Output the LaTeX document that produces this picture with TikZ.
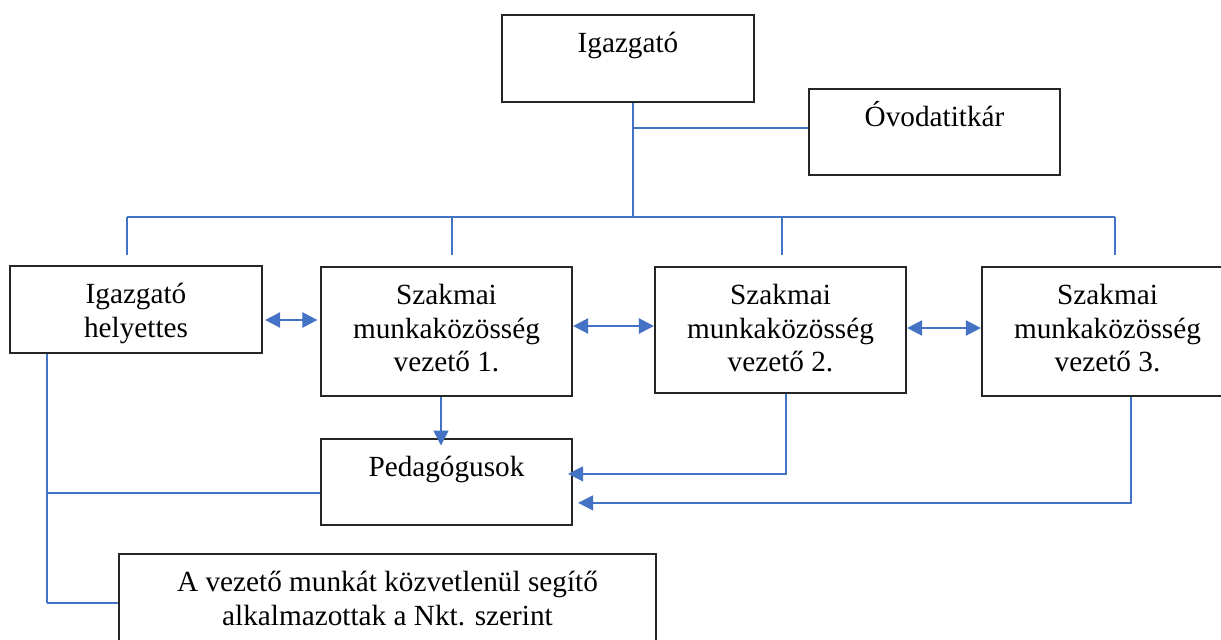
\documentclass[tikz,border=0pt]{standalone}
\usepackage{fontspec}
\setmainfont{Liberation Serif}
\usetikzlibrary{arrows.meta,positioning,calc}
\definecolor{linkblue}{HTML}{4472C4}

\begin{document}
\begin{tikzpicture}
[x=0.4pt, y=-0.4pt,
box/.style={draw=black!85, line width=0.7pt, anchor=north, align=center,
  minimum width=100.6pt, inner ysep=0pt, font=\fontsize{11.7pt}{13.4pt}\selectfont},
link/.style={draw=linkblue, line width=0.6pt},
onearrow/.style={-{Triangle[length=6pt,width=6pt]}},
twoarrow/.style={{Triangle[length=6pt,width=6pt]}-{Triangle[length=6pt,width=6pt]}, line width=1pt}]
\clip (0,0) rectangle (1221,640);
\node[box, text height=15.2pt, text depth=19.6pt] (dir) at (628,14) {Igazgató};
\node[box, text height=15.2pt, text depth=19.2pt] (titk) at (934.5,88) {Óvodatitkár};
\node[box, text height=28.6pt, text depth=6.2pt] (hely) at (136,265) {Igazgató\\helyettes};
\node[box, text height=42pt, text depth=9.6pt] (szm1) at (446.5,266) {Szakmai\\munkaközösség\\vezető 1.};
\node[box, text height=42pt, text depth=8.4pt] (szm2) at (780.5,266) {Szakmai\\munkaközösség\\vezető 2.};
\node[box, text height=42pt, text depth=9.6pt] (szm3) at (1107.5,266) {Szakmai\\munkaközösség\\vezető 3.};
\node[box, text height=15.2pt, text depth=19.2pt] (ped) at (446.5,438) {Pedagógusok};
\node[box, minimum width=214.8pt, text height=28.6pt, text depth=16pt] (seg) at (387.5,553)
  {A vezető munkát közvetlenül segítő\\alkalmazottak a Nkt. szerint};
\coordinate (hub) at (633,217);
\coordinate (t1) at (127,255);
\coordinate (t2) at (452,255);
\coordinate (t3) at (782,255);
\coordinate (t4) at (1115,255);
\coordinate (lc) at (47,603);
\draw[link, line width=1pt] (dir.south -| hub) -- (hub);
\draw[link] (hub |- 0,128) -- (titk.west |- 0,128);
\draw[link] (t1 |- hub) -- (t4 |- hub);
\foreach \t in {t1,t2,t3,t4}
  \draw[link] (\t |- hub) -- (\t);
\draw[link, twoarrow, shorten <=1pt, shorten >=1pt] (hely.east |- 0,320) -- (szm1.west |- 0,320);
\draw[link, twoarrow] (szm1.east |- 0,326) -- (szm2.west |- 0,326);
\draw[link, twoarrow] (szm2.east |- 0,328) -- (szm3.west |- 0,328);
\draw[link, onearrow, shorten >=-3pt] (szm1.south -| 441,0) -- (ped.north -| 441,0);
\draw[link, onearrow, shorten >=-2pt] (szm2.south -| 786,0) |- ([yshift=3.2pt]ped.east);
\draw[link, onearrow, shorten >=2pt] (szm3.south -| 1131,0) |- ([yshift=-8.4pt]ped.east);
\draw[link, line width=1pt] (hely.south -| lc) -- (lc);
\draw[link] ([yshift=-4.4pt]ped.west) -- ([yshift=-4.4pt]ped.west -| lc);
\draw[link] (lc) -- (seg.west |- lc);
\end{tikzpicture}
\end{document}
